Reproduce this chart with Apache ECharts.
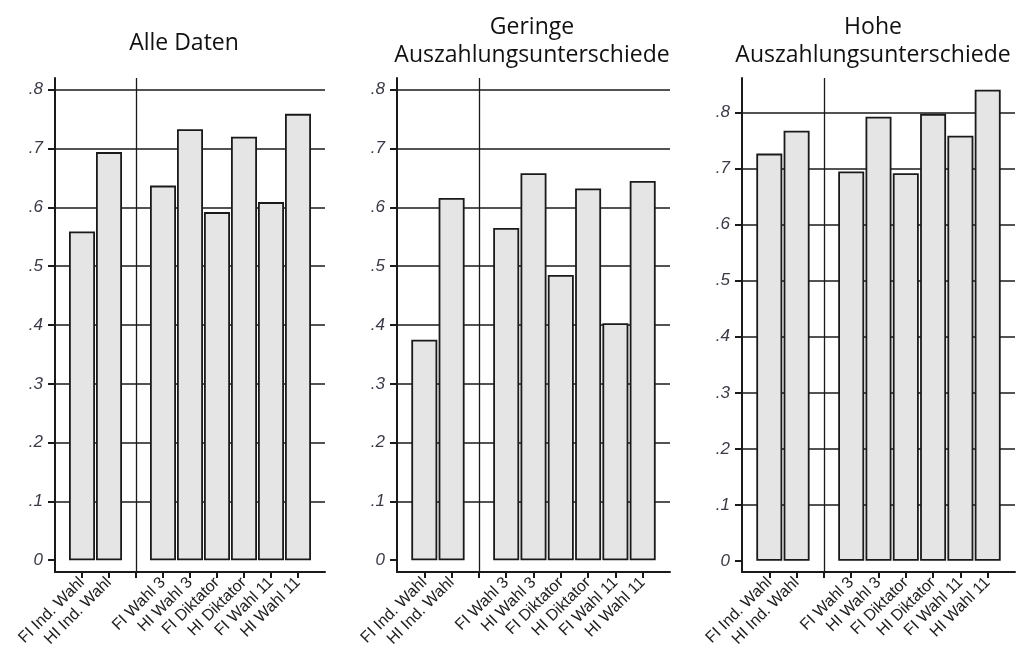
<!DOCTYPE html>
<html>
<head>
<meta charset="utf-8">
<script src="https://cdn.jsdelivr.net/npm/echarts@6/dist/echarts.min.js"></script>
<style>html,body{margin:0;padding:0;background:#fff;}#c{width:1018px;height:665px;}</style>
</head>
<body>
<div id="c"></div>
<script>
// ---- data ----
const categories = ['', 'FI Ind. Wahl', 'HI Ind. Wahl', '', 'FI Wahl 3', 'HI Wahl 3', 'FI Diktator', 'HI Diktator', 'FI Wahl 11', 'HI Wahl 11', ''];
const allData  = [null, 0.559, 0.694, null, 0.637, 0.733, 0.592, 0.720, 0.609, 0.759, null];
const lowDiff  = [null, 0.375, 0.616, null, 0.565, 0.658, 0.485, 0.632, 0.403, 0.645, null];
const highDiff = [null, 0.727, 0.768, null, 0.695, 0.793, 0.692, 0.798, 0.759, 0.841, null];
const titles = ['Alle Daten', 'Geringe\nAuszahlungsunterschiede', 'Hohe\nAuszahlungsunterschiede'];
const yTicks = [0, 0.1, 0.2, 0.3, 0.4, 0.5, 0.6, 0.7, 0.8];
const gridValues = [0.1, 0.2, 0.3, 0.4, 0.5, 0.6, 0.7, 0.8];
const separatorIndex = 3;

const panels = [
  {data: allData,  left: 55,  width: 270, max: 0.82,  titleX: 179, titleTop: 24},
  {data: lowDiff,  left: 397, width: 273, max: 0.82,  titleX: 527, titleTop: 8},
  {data: highDiff, left: 742, width: 273, max: 0.862, titleX: 868, titleTop: 8}
];

const chart = echarts.init(document.getElementById('c'));
const ink = '#1a1a1a';
const option = {
  animation: false,
  title: [], grid: [], xAxis: [], yAxis: [], series: []
};

panels.forEach((p, i) => {
  option.title.push({
    text: titles[i],
    left: p.titleX,
    top: p.titleTop,
    textAlign: 'center',
    textStyle: {fontFamily: 'Open Sans', fontSize: 23, fontWeight: 'normal', color: '#111', lineHeight: 28}
  });
  option.grid.push({left: p.left, width: p.width, top: 78, bottom: 93, containLabel: false});
  option.xAxis.push({
    type: 'category', gridIndex: i, data: categories, boundaryGap: false,
    axisLine: {show: true, onZero: false, lineStyle: {color: ink, width: 2}},
    axisTick: {show: true, length: 6, interval: (idx) => idx >= 1 && idx <= 9, lineStyle: {color: ink, width: 2}},
    axisLabel: {
      interval: (idx, v) => v !== '', rotate: 45, margin: 8,
      fontFamily: 'Liberation Sans', fontSize: 16, color: '#222'
    },
    splitLine: {show: false}
  });
  option.yAxis.push({
    type: 'value', gridIndex: i, min: -0.02, max: p.max,
    axisLine: {show: true, lineStyle: {color: ink, width: 2}},
    axisTick: {show: true, length: 7, customValues: yTicks, lineStyle: {color: ink, width: 2}},
    axisLabel: {
      customValues: yTicks, margin: 12,
      formatter: (v) => v === 0 ? '0' : String(Math.round(v * 10) / 10).replace(/^0\./, '.'),
      fontFamily: 'Liberation Sans', fontStyle: 'italic', fontSize: 17, color: '#3a3a48'
    },
    splitLine: {show: false}
  });
  option.series.push({
    type: 'line', xAxisIndex: i, yAxisIndex: i, data: [], z: 1, silent: true,
    markLine: {
      silent: true, symbol: ['none', 'none'], label: {show: false}, animation: false, z: 1,
      lineStyle: {color: ink, width: 1.6, type: 'solid'},
      emphasis: {disabled: true},
      data: gridValues.map(v => ({yAxis: v})).concat([{xAxis: separatorIndex, lineStyle: {width: 1.3}}])
    }
  });
  option.series.push({
    type: 'bar', xAxisIndex: i, yAxisIndex: i, data: p.data, barWidth: 26, z: 3,
    itemStyle: {color: '#e5e5e5', borderColor: ink, borderWidth: 1.8},
    emphasis: {disabled: true}
  });
});

chart.setOption(option);
</script>
</body>
</html>
